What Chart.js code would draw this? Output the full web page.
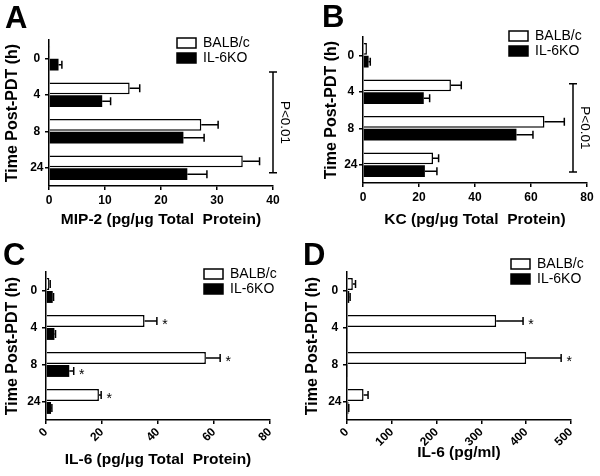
<!DOCTYPE html>
<html>
<head>
<meta charset="utf-8">
<script src="https://cdn.jsdelivr.net/npm/chart.js@4.4.1/dist/chart.umd.min.js"></script>
<style>
  body { margin: 0; background: #fff; }
  #wrap { position: relative; width: 600px; height: 476px; }
  canvas { position: absolute; }
</style>
</head>
<body>
<div id="wrap">
  <canvas id="cA" width="300" height="238" style="left:0;top:0"></canvas>
  <canvas id="cB" width="300" height="238" style="left:300px;top:0"></canvas>
  <canvas id="cC" width="300" height="236" style="left:0;top:240px"></canvas>
  <canvas id="cD" width="300" height="236" style="left:300px;top:240px"></canvas>
</div>
<script>
// time points (h)
const times = ['0', '4', '8', '24'];
const seriesNames = ['BALB/c', 'IL-6KO'];

// A: MIP-2 (pg/ug total protein), mean and +SEM
const mip2Balb = [0.2, 14.4, 27.2, 34.6];
const mip2BalbErr = [0, 1.8, 3.0, 3.0];
const mip2Ko = [1.7, 9.5, 24.0, 24.7];
const mip2KoErr = [0.6, 1.5, 3.7, 3.5];

// B: KC (pg/ug total protein)
const kcBalb = [1.4, 31.4, 64.8, 25.0];
const kcBalbErr = [0, 3.7, 7.1, 2.0];
const kcKo = [2.0, 21.7, 54.8, 22.1];
const kcKoErr = [0.6, 2.1, 5.9, 4.3];

// C: IL-6 (pg/ug total protein)
const il6Balb = [1.2, 35.2, 57.1, 18.9];
const il6BalbErr = [0.3, 4.4, 5.1, 0.8];
const il6Ko = [2.4, 3.0, 8.3, 1.8];
const il6KoErr = [0.3, 0.4, 1.6, 0.3];

// D: IL-6 (pg/ml)
const il6mlBalb = [13, 333, 400, 37];
const il6mlBalbErr = [6, 60, 78, 10];
const il6mlKo = [5, 2, 2, 3];
const il6mlKoErr = [2, 0, 0, 1];

Chart.defaults.font.family = 'Arial, "Liberation Sans", sans-serif';
Chart.defaults.color = '#000';

// error bars, stars, p-value bracket, legend and panel letter
const panelExtras = {
  id: 'panelExtras',
  afterDatasetsDraw(chart, args, opts) {
    const { ctx, scales: { x, y } } = chart;
    ctx.save();
    ctx.strokeStyle = '#000';
    ctx.fillStyle = '#000';
    ctx.lineWidth = 1.5;

    const ends = [];
    chart.data.datasets.forEach((ds, di) => {
      ends[di] = [];
      chart.getDatasetMeta(di).data.forEach((bar, i) => {
        const err = ds.errors[i];
        const x0 = x.getPixelForValue(ds.data[i]);
        const x1 = x.getPixelForValue(ds.data[i] + err);
        ends[di][i] = { x: x1, y: bar.y };
        if (!err) return;
        ctx.beginPath();
        ctx.moveTo(x0, bar.y);
        ctx.lineTo(x1, bar.y);
        ctx.moveTo(x1, bar.y - 4);
        ctx.lineTo(x1, bar.y + 4);
        ctx.stroke();
      });
    });

    ctx.font = '14px Arial, "Liberation Sans", sans-serif';
    ctx.textAlign = 'center';
    ctx.textBaseline = 'alphabetic';
    (opts.stars || []).forEach(([di, i]) => {
      const e = ends[di][i];
      ctx.fillText('*', e.x + 8, e.y + 8);
    });

    if (opts.bracket) {
      const b = opts.bracket;
      const bx = x.getPixelForValue(b.value);
      const y0 = y.getPixelForValue(b.from);
      const y1 = y.getPixelForValue(b.to);
      ctx.beginPath();
      ctx.moveTo(bx, y0); ctx.lineTo(bx, y1);
      ctx.moveTo(bx - 4, y0); ctx.lineTo(bx + 4, y0);
      ctx.moveTo(bx - 4, y1); ctx.lineTo(bx + 4, y1);
      ctx.stroke();
      ctx.save();
      ctx.translate(bx + 12, (y0 + y1) / 2);
      ctx.rotate(Math.PI / 2);
      ctx.font = '13.5px Arial, "Liberation Sans", sans-serif';
      ctx.textBaseline = 'middle';
      ctx.fillText(b.text, 0, 0);
      ctx.restore();
    }

    const lg = opts.legend;
    ctx.font = '14px Arial, "Liberation Sans", sans-serif';
    ctx.textAlign = 'left';
    ctx.textBaseline = 'middle';
    chart.data.datasets.forEach((ds, di) => {
      const by = lg.y + di * 15;
      ctx.fillStyle = ds.backgroundColor;
      ctx.fillRect(lg.x, by, 19, 10);
      ctx.strokeRect(lg.x, by, 19, 10);
      ctx.fillStyle = '#000';
      ctx.fillText(ds.label, lg.x + 26, by + 5.5);
    });

    ctx.font = 'bold 31px Arial, "Liberation Sans", sans-serif';
    ctx.textBaseline = 'alphabetic';
    ctx.fillText(opts.letter.text, opts.letter.x, opts.letter.y);
    ctx.restore();
  }
};

function drawPanel(p) {
  new Chart(document.getElementById(p.canvas), {
    type: 'bar',
    data: {
      labels: times,
      datasets: [
        { label: seriesNames[0], data: p.balb, errors: p.balbErr,
          backgroundColor: '#fff', borderColor: '#000', borderWidth: 1.5 },
        { label: seriesNames[1], data: p.ko, errors: p.koErr,
          backgroundColor: '#000', borderColor: '#000', borderWidth: 0 }
      ]
    },
    options: {
      indexAxis: 'y',
      responsive: false,
      animation: false,
      layout: { padding: { top: p.padTop, right: p.padRight, left: 0, bottom: 0 } },
      datasets: { bar: { categoryPercentage: 0.7, barPercentage: 0.92 } },
      plugins: {
        legend: { display: false },
        tooltip: { enabled: false },
        panelExtras: { stars: p.stars, bracket: p.bracket, legend: p.legend, letter: p.letter }
      },
      scales: {
        x: {
          min: 0,
          max: p.max,
          afterFit: s => { s.height = p.xHeight; },
          ticks: { stepSize: p.step, color: '#000', font: { size: 12, weight: 'bold' },
                   padding: p.rot ? 1 : 3, minRotation: p.rot, maxRotation: p.rot },
          grid: { drawOnChartArea: false, color: '#000', tickLength: 4, lineWidth: 1.5 },
          border: { color: '#000', width: 1.5 },
          title: { display: true, text: p.xTitle, color: '#000',
                   font: { size: 15.5, weight: 'bold' }, padding: { top: 0, bottom: p.xTitlePad } }
        },
        y: {
          afterFit: s => { s.width = p.yWidth; },
          ticks: { color: '#000', font: { size: 12, weight: 'bold' }, crossAlign: 'center', padding: 1.5 },
          grid: { drawOnChartArea: false, offset: false, color: '#000', tickLength: 4, lineWidth: 1.5 },
          border: { color: '#000', width: 1.5 },
          title: { display: true, text: 'Time Post-PDT (h)', color: '#000',
                   font: { size: 16, weight: 'bold' }, padding: { top: p.yTitlePad, bottom: 0 } }
        }
      }
    },
    plugins: [panelExtras]
  });
}

drawPanel({
  canvas: 'cA', balb: mip2Balb, balbErr: mip2BalbErr, ko: mip2Ko, koErr: mip2KoErr,
  max: 40, step: 10, rot: 0, xTitle: 'MIP-2 (pg/\u03bcg Total  Protein)',
  yWidth: 49, padRight: 27, padTop: 40, xHeight: 52, xTitlePad: 8.5, yTitlePad: 3,
  bracket: { value: 40, from: 0.38, to: 3.14, text: 'P<0.01' },
  legend: { x: 177, y: 38 }, letter: { text: 'A', x: 5, y: 28 }
});
drawPanel({
  canvas: 'cB', balb: kcBalb, balbErr: kcBalbErr, ko: kcKo, koErr: kcKoErr,
  max: 80, step: 20, rot: 0, xTitle: 'KC (pg/\u03bcg Total  Protein)',
  yWidth: 63, padRight: 13, padTop: 37, xHeight: 55, xTitlePad: 8.5, yTitlePad: 22,
  bracket: { value: 75, from: 0.78, to: 3.2, text: 'P<0.01' },
  legend: { x: 209, y: 31 }, letter: { text: 'B', x: 22, y: 27 }
});
drawPanel({
  canvas: 'cC', balb: il6Balb, balbErr: il6BalbErr, ko: il6Ko, koErr: il6KoErr,
  max: 80, step: 20, rot: 45, xTitle: 'IL-6 (pg/\u03bcg Total  Protein)',
  yWidth: 46, padRight: 30, padTop: 32, xHeight: 56, xTitlePad: 6.5, yTitlePad: 3,
  stars: [[0, 1], [0, 2], [1, 2], [0, 3]],
  legend: { x: 204, y: 29 }, letter: { text: 'C', x: 3, y: 25 }
});
drawPanel({
  canvas: 'cD', balb: il6mlBalb, balbErr: il6mlBalbErr, ko: il6mlKo, koErr: il6mlKoErr,
  max: 500, step: 100, rot: 45, xTitle: 'IL-6 (pg/ml)',
  yWidth: 47, padRight: 29, padTop: 32, xHeight: 56, xTitlePad: 13.5, yTitlePad: 3,
  stars: [[0, 1], [0, 2]],
  legend: { x: 211, y: 19 }, letter: { text: 'D', x: 3, y: 25 }
});
</script>
</body>
</html>
